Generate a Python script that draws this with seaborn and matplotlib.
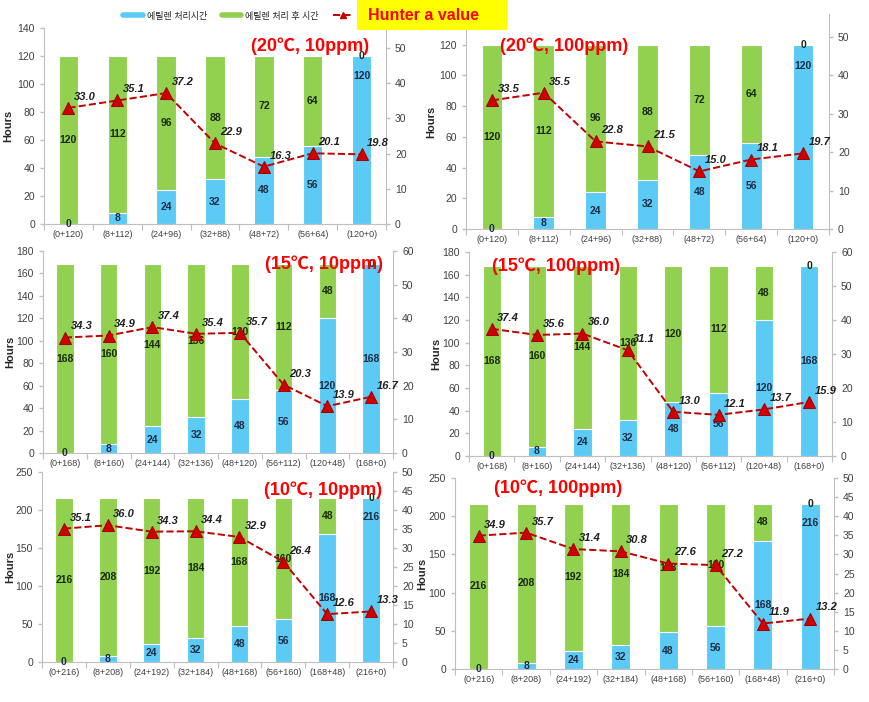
import numpy as np
import seaborn as sns
import matplotlib.pyplot as plt
from matplotlib.lines import Line2D
from matplotlib.patches import Rectangle

sns.set_theme(style="white", context="paper")
plt.rcParams['font.family'] = ['Liberation Sans', 'Noto Sans CJK KR', 'DejaVu Sans']

BLUE = "#5BCBF5"
GREEN = "#92D050"
RED = "#C00000"
GRAY = "#BFBFBF"

# ethylene treatment hours (blue part); the rest of the bar is post-treatment time
blue_120 = [0, 8, 24, 32, 48, 56, 120]
blue_168 = [0, 8, 24, 32, 48, 56, 120, 168]
blue_216 = [0, 8, 24, 32, 48, 56, 168, 216]

# Hunter a values
a_20_10 = [33.0, 35.1, 37.2, 22.9, 16.3, 20.1, 19.8]
a_20_100 = [33.5, 35.5, 22.8, 21.5, 15.0, 18.1, 19.7]
a_15_10 = [34.3, 34.9, 37.4, 35.4, 35.7, 20.3, 13.9, 16.7]
a_15_100 = [37.4, 35.6, 36.0, 31.1, 13.0, 12.1, 13.7, 15.9]
a_10_10 = [35.1, 36.0, 34.3, 34.4, 32.9, 26.4, 12.6, 13.3]
a_10_100 = [34.9, 35.7, 31.4, 30.8, 27.6, 27.2, 11.9, 13.2]

titles = ["(20℃, 10ppm)", "(20℃, 100ppm)", "(15℃, 10ppm)",
          "(15℃, 100ppm)", "(10℃, 10ppm)", "(10℃, 100ppm)"]

W, H = 869, 702
fig = plt.figure(figsize=(W / 100, H / 100), dpi=100)


def draw_panel(rect, blue, total, avals, title, title_xy, ymax, ytop, ystep,
               y2max, y2top, y2step, hours_x, top_last):
    x0, y0, x1, y1 = rect
    ax = fig.add_axes([x0 / W, 1 - y1 / H, (x1 - x0) / W, (y1 - y0) / H])
    n = len(blue)
    green = [total - b for b in blue]
    totals = [total] * n
    labels = [f"({b}+{g})" for b, g in zip(blue, green)]

    sns.barplot(x=labels, y=totals, color=GREEN, saturation=1, width=0.4, ax=ax)
    sns.barplot(x=labels, y=blue, color=BLUE, saturation=1, width=0.4, ax=ax)

    # segment labels
    for i, (b, g) in enumerate(zip(blue, green)):
        by = b / 2
        if top_last and i == n - 1:
            by = total - 0.1 * ymax
        ax.text(i, by, str(b), ha="center", va="center", fontsize=7.5,
                weight="bold", color="#1F2A44")
        ax.text(i, b + g / 2, str(g), ha="center", va="center", fontsize=7.5,
                weight="bold", color="#1A2A10")

    ax.set_ylim(0, ymax)
    ax.set_yticks(np.arange(0, ytop + 1, ystep))
    ax.set_xlim(-0.5, n - 0.5)
    ax.set_xticks(np.arange(n + 1) - 0.5, minor=True)
    ax.tick_params(axis="x", which="major", length=0, labelsize=6.5,
                   labelcolor="#404040", pad=4)
    ax.tick_params(axis="x", which="minor", length=4, color=GRAY, bottom=True)
    ax.tick_params(axis="y", length=3, color=GRAY, left=True, labelsize=7.5,
                   labelcolor="#404040")
    ax.set_xlabel("")
    ax.set_ylabel("Hours", weight="bold", fontsize=8)
    ax.yaxis.set_label_coords((hours_x - x0) / (x1 - x0), 0.5)
    for s in ["top", "right"]:
        ax.spines[s].set_visible(False)
    for s in ["left", "bottom"]:
        ax.spines[s].set_color(GRAY)
        ax.spines[s].set_linewidth(0.8)

    ax2 = ax.twinx()
    sns.lineplot(x=np.arange(n), y=avals, ax=ax2, color=RED, linestyle="--",
                 linewidth=1.4, marker="^", markersize=9,
                 markerfacecolor="#D00000", markeredgecolor="#A00000")
    for i, v in enumerate(avals):
        ax2.annotate(f"{v:.1f}", (i, v), xytext=(4, 8), textcoords="offset points",
                     ha="left", va="center", fontsize=8, style="italic",
                     weight="bold", color="#202020")
    ax2.set_xlim(-0.5, n - 0.5)
    ax2.set_ylim(0, y2max)
    ax2.set_yticks(np.arange(0, y2top + 0.1, y2step))
    ax2.tick_params(axis="y", length=3, color=GRAY, right=True, labelsize=7.5,
                    labelcolor="#404040")
    ax2.set_ylabel("")
    for s in ["top", "left", "bottom"]:
        ax2.spines[s].set_visible(False)
    ax2.spines["right"].set_color(GRAY)
    ax2.spines["right"].set_linewidth(0.8)

    fig.text(title_xy[0] / W, 1 - title_xy[1] / H, title, ha="center",
             va="center", color="#FF0000", fontsize=13, weight="bold", zorder=5)


draw_panel((44, 28, 386, 224), blue_120, 120, a_20_10, titles[0], (310, 46),
           140, 140, 20, 55.7, 50, 10, 13, True)
draw_panel((466, 14, 829, 229), blue_120, 120, a_20_100, titles[1], (564, 46),
           140, 120, 20, 56, 50, 10, 436, True)
draw_panel((43, 251, 393, 453), blue_168, 168, a_15_10, titles[2], (324, 264),
           180, 180, 20, 60, 60, 10, 15, False)
draw_panel((469, 252, 832, 456), blue_168, 168, a_15_100, titles[3], (556, 266),
           180, 180, 20, 60, 60, 10, 441, False)
draw_panel((42, 472, 393, 662), blue_216, 216, a_10_10, titles[4], (323, 490),
           250, 250, 50, 50, 50, 5, 15, True)
draw_panel((455, 478, 834, 669), blue_216, 216, a_10_100, titles[5], (558, 488),
           250, 250, 50, 50, 50, 5, 427, True)

# legend across the top
handles = [
    Line2D([], [], color=BLUE, lw=4),
    Line2D([], [], color=GREEN, lw=4),
    Line2D([], [], color=RED, lw=1.4, linestyle="--", marker="^",
           markersize=5, markerfacecolor="#D00000"),
]
fig.legend(handles, ["에틸렌 처리시간", "에틸렌 처리 후 시간", ""], loc="center",
           bbox_to_anchor=(240 / W, 1 - 16 / H), ncol=3, frameon=False,
           fontsize=6.5, handlelength=2.2, handletextpad=0.4, columnspacing=1.6)

fig.patches.append(Rectangle((357 / W, 1 - 30 / H), 150 / W, 30 / H,
                             transform=fig.transFigure, facecolor="#FFFF00",
                             edgecolor="none", zorder=10))
fig.text(424 / W, 1 - 16 / H, "Hunter a value", ha="center", va="center",
         color="#FF0000", fontsize=11.5, weight="bold", zorder=11)

fig.savefig("out.png", dpi=100)
